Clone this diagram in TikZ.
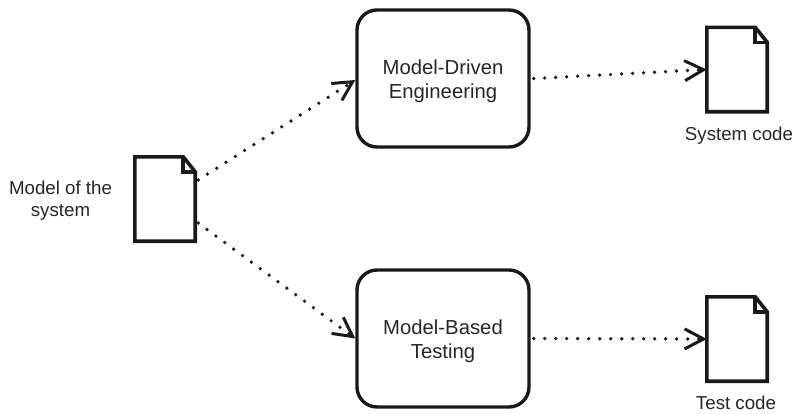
\documentclass[tikz,border=0pt]{standalone}
\usepackage{fontspec}
\setmainfont{Liberation Sans}
\usetikzlibrary{arrows.meta}
\newcommand{\lowertext}{\rule{0pt}{19.5pt}}
\tikzset{
  x=1pt,y=-1pt,
  process/.style={draw=black!90,line width=3.4pt,rounded corners=20pt,minimum width=172pt,minimum height=137pt,inner sep=0pt,align=center,font=\fontsize{20.3}{24}\selectfont,text=black!85},
  docbox/.style={minimum width=60pt,minimum height=84pt,inner sep=0pt},
  caption/.style={inner sep=0pt,align=center,font=\fontsize{18.7}{22}\selectfont,text=black!85},
  docline/.style={draw=black!90,line width=3.6pt,line join=miter},
  flow/.style={draw=black!90,line width=3.7pt,line cap=round,dash pattern=on 0pt off 11pt,
    -{Straight Barb[length=19pt,width=20pt,line width=3pt,line cap=butt]}},
}
\newcommand{\docshape}[1]{%
  \draw[docline] (#1.north west) -- ([xshift=-12pt]#1.north east) -- ([yshift=-15pt]#1.north east) -- (#1.south east) -- (#1.south west) -- cycle;
  \draw[docline] ([xshift=-12pt]#1.north east) -- ([xshift=-12pt,yshift=-15pt]#1.north east) -- ([yshift=-15pt]#1.north east);
}
\begin{document}
\begin{tikzpicture}
\useasboundingbox (0,0) rectangle (797,413);
\node[process] (mde) at (443,78.5) {\lowertext Model-Driven\\Engineering};
\node[process] (mbt) at (443,338.5) {\lowertext Model-Based\\Testing};
\node[docbox] (model) at (165,199) {};
\node[docbox] (sys) at (737,69.5) {};
\node[docbox] (test) at (737,339) {};
\docshape{model}
\docshape{sys}
\docshape{test}
\node[caption] (lmodel) at (60.5,201) {Model of the\\system};
\node[caption] (lsys) at (739,136) {System code};
\node[caption] (ltest) at (736,403) {Test code};
\coordinate (mup) at ([yshift=19pt]model.east);
\coordinate (mdown) at ([yshift=-24pt]model.east);
\draw[flow] ([xshift=3pt]mup) -- ([yshift=-1.5pt]mde.west);
\draw[flow] ([xshift=3pt]mdown) -- (mbt.west);
\draw[flow] ([xshift=3pt]mde.east) -- (sys.west);
\draw[flow] ([xshift=3pt]mbt.east) -- (test.west);
\end{tikzpicture}
\end{document}
